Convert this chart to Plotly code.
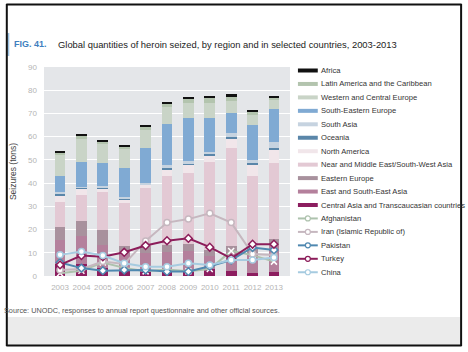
import plotly.graph_objects as go

W, H = 468, 352
L, R, T, B = 42, 178, 67, 76
PW, PH = W - L - R, H - T - B

def px(x):
    return (x - L) / PW

def py(y):
    return (H - B - y) / PH

years = ["2003", "2004", "2005", "2006", "2007", "2008", "2009", "2010", "2011", "2012", "2013"]

# Stacked regional seizures (tons), bottom to top
central_asia = [5.3, 5.2, 3.3, 2.6, 2.5, 2.6, 2.2, 3.0, 2.0, 1.4, 1.8]
east_se_asia = [10.0, 12.1, 10.2, 7.2, 7.3, 7.9, 8.6, 5.7, 8.4, 8.1, 11.7]
eastern_europe = [6.0, 6.5, 6.5, 3.0, 3.0, 3.0, 3.0, 2.5, 2.5, 2.5, 2.5]
near_middle_east = [10.7, 11.2, 16.0, 18.7, 25.2, 29.5, 30.7, 37.8, 42.1, 31.0, 32.5]
north_america = [2.8, 2.7, 1.8, 1.6, 1.2, 3.0, 3.3, 3.1, 4.4, 5.0, 6.1]
oceania = [0.5, 0.3, 0.3, 0.3, 0.3, 0.3, 0.3, 0.5, 0.6, 0.8, 0.5]
south_asia = [1.0, 0.5, 0.8, 0.8, 0.5, 1.5, 1.5, 1.0, 1.5, 1.2, 2.5]
south_eastern_europe = [6.8, 10.5, 9.7, 12.5, 15.3, 17.7, 18.6, 14.6, 8.6, 15.1, 14.2]
western_central_europe = [9.2, 10.2, 8.3, 7.9, 7.6, 7.1, 6.2, 6.5, 5.4, 4.2, 4.1]
latin_america = [1.0, 1.3, 1.2, 1.3, 1.3, 1.8, 2.0, 2.0, 1.5, 1.5, 1.0]
africa = [0.4, 0.5, 0.5, 0.6, 0.5, 0.6, 0.8, 1.0, 1.2, 0.9, 0.8]

# Selected countries (tons)
afghanistan = [1.2, 2.3, 5.8, 3.5, 2.0, 2.8, 2.0, 3.0, 10.8, 9.0, 6.2]
iran = [2.6, 3.0, 6.2, 5.2, 15.1, 23.0, 24.5, 27.0, 23.0, 9.5, 9.0]
pakistan = [5.8, 3.4, 2.3, 2.6, 2.6, 1.9, 1.9, 4.2, 6.9, 12.3, 11.2]
turkey = [4.8, 8.8, 8.3, 10.2, 13.1, 15.2, 16.2, 12.4, 7.6, 13.7, 13.7]
china = [9.1, 10.5, 8.8, 5.5, 4.0, 4.0, 5.5, 4.7, 6.9, 6.9, 8.0]

bar_series = [
    ("Central Asia and Transcaucasian countries", central_asia, "#8c1d5f"),
    ("East and South-East Asia", east_se_asia, "#b4809c"),
    ("Eastern Europe", eastern_europe, "#a8919d"),
    ("Near and Middle East/South-West Asia", near_middle_east, "#e3c9d4"),
    ("North America", north_america, "#f1e6ea"),
    ("Oceania", oceania, "#5a86a9"),
    ("South Asia", south_asia, "#c6d3e0"),
    ("South-Eastern Europe", south_eastern_europe, "#80aad3"),
    ("Western and Central Europe", western_central_europe, "#c9d4c7"),
    ("Latin America and the Caribbean", latin_america, "#b3c4ae"),
    ("Africa", africa, "#111111"),
]

line_series = [
    ("Afghanistan", afghanistan, "#adc2ad", "x-thin-open"),
    ("Iran (Islamic Republic of)", iran, "#c6b7bf", "circle"),
    ("Pakistan", pakistan, "#4f88b0", "diamond"),
    ("Turkey", turkey, "#8c1d5a", "diamond"),
    ("China", china, "#a6cbe0", "circle"),
]

fig = go.Figure()
for name, vals, col in bar_series:
    fig.add_trace(go.Bar(x=years, y=vals, name=name, marker=dict(color=col, line=dict(width=0)),
                         showlegend=False))
for name, vals, col, sym in line_series:
    fig.add_trace(go.Scatter(x=years, y=vals, name=name, mode="lines+markers",
                             line=dict(color=col, width=2),
                             marker=dict(symbol=sym, size=6, color="white",
                                         line=dict(color=col, width=1.5)),
                             showlegend=False))

shapes = []
annotations = []

# Custom legend (top to bottom: reversed bars, then lines)
leg_items = [(n, c, "bar", None) for n, _, c in reversed(bar_series)] + \
            [(n, c, "line", s) for n, _, c, s in line_series]
y0, dy = 70.5, 13.45
for i, (name, col, kind, sym) in enumerate(leg_items):
    yc = y0 + i * dy
    if kind == "bar":
        shapes.append(dict(type="rect", xref="paper", yref="paper",
                           x0=px(298), x1=px(318), y0=py(yc + 2), y1=py(yc - 2),
                           fillcolor=col, line=dict(width=0)))
    else:
        shapes.append(dict(type="line", xref="paper", yref="paper",
                           x0=px(298), x1=px(318), y0=py(yc), y1=py(yc),
                           line=dict(color=col, width=2)))
        shapes.append(dict(type="circle", xref="paper", yref="paper",
                           x0=px(305.5), x1=px(310.5), y0=py(yc + 2.5), y1=py(yc - 2.5),
                           fillcolor="white", line=dict(color=col, width=1.2)))
    annotations.append(dict(text=name, xref="paper", yref="paper", x=px(319.5), y=py(yc),
                            xanchor="left", yanchor="middle", showarrow=False,
                            font=dict(size=7.6, color="#333333", family="Liberation Sans")))

# Title
annotations.append(dict(text="<b>FIG. 41.</b>", xref="paper", yref="paper", x=px(10), y=py(44),
                        xanchor="left", yanchor="middle", showarrow=False,
                        font=dict(size=9, color="#3f7fc0", family="Liberation Sans")))
annotations.append(dict(text="Global quantities of heroin seized, by region and in selected countries, 2003-2013",
                        xref="paper", yref="paper", x=px(54), y=py(44),
                        xanchor="left", yanchor="middle", showarrow=False,
                        font=dict(size=9.4, color="#222222", family="Liberation Sans")))
# Source
annotations.append(dict(text="Source: UNODC, responses to annual report questionnaire and other official sources.",
                        xref="paper", yref="paper", x=px(0), y=py(310),
                        xanchor="left", yanchor="middle", showarrow=False,
                        font=dict(size=7.3, color="#555555", family="Liberation Sans")))

# Decorative frame elements
shapes.append(dict(type="rect", xref="paper", yref="paper", x0=px(5), x1=px(462), y0=py(345), y1=py(317),
                   fillcolor="#ebebeb", line=dict(width=0), layer="below"))
shapes.append(dict(type="line", xref="paper", yref="paper", x0=px(6), x1=px(6), y0=py(33), y1=py(56),
                   line=dict(color="#9cc2e2", width=2)))
for (x0, y0_, x1, y1) in [(4, 4.5, 463, 4.5), (4, 345.5, 463, 345.5), (4.5, 4, 4.5, 346), (462.5, 4, 462.5, 346)]:
    shapes.append(dict(type="line", xref="paper", yref="paper", x0=px(x0), x1=px(x1), y0=py(y0_), y1=py(y1),
                       line=dict(color="#111111", width=2)))

fig.update_layout(
    width=W, height=H,
    margin=dict(l=L, r=R, t=T, b=B, pad=0),
    barmode="stack", bargap=0.5,
    paper_bgcolor="white", plot_bgcolor="#e4e6e9",
    font=dict(family="Liberation Sans", size=8, color="#b0b0b0"),
    shapes=shapes, annotations=annotations,
    showlegend=False,
    xaxis=dict(type="category", showgrid=False, ticks="", showline=False,
               tickfont=dict(size=8, color="#b5b5b5"), ticklabelstandoff=5),
    yaxis=dict(range=[0, 90], dtick=10, gridcolor="white", gridwidth=1, zeroline=False,
               showline=False, tickfont=dict(size=8, color="#b5b5b5"), ticklabelstandoff=6,
               title=dict(text="Seizures (tons)", font=dict(size=8.5, color="#444444"), standoff=10)),
)

fig.write_html("out.html")
